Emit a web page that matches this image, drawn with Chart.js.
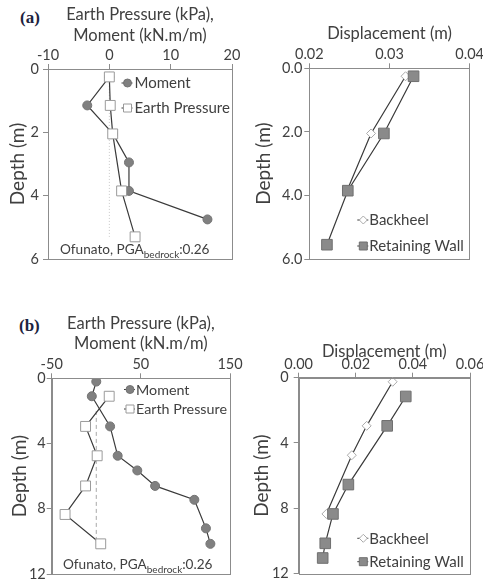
<!DOCTYPE html>
<html><head><meta charset="utf-8">
<script src="https://cdn.jsdelivr.net/npm/chart.js@4.4.0/dist/chart.umd.min.js"></script>
<style>
html,body{margin:0;padding:0;background:#fff;width:483px;height:582px;overflow:hidden;}
canvas{position:absolute;}
.lbl{position:absolute;font-family:"Liberation Serif",serif;font-weight:bold;font-size:17px;color:#1c2340;line-height:1;}
.note{position:absolute;font-family:Lato,sans-serif;font-size:13.6px;color:#404040;white-space:nowrap;line-height:1;}
.note sub{font-size:10px;vertical-align:-4px;line-height:0;}
</style></head><body>
<div class="lbl" style="left:20px;top:9px">(a)</div>
<div class="lbl" style="left:19px;top:317px">(b)</div>
<canvas id="cA2" width="242" height="291" style="left:241px;top:0"></canvas>
<canvas id="cB2" width="242" height="291" style="left:241px;top:291px"></canvas>
<canvas id="cA1" width="252" height="291" style="left:0;top:0"></canvas>
<canvas id="cB1" width="252" height="291" style="left:0;top:291px"></canvas>
<div class="note" style="left:60px;top:243px">Ofunato, PGA<sub>bedrock</sub>:0.26</div>
<div class="note" style="left:63px;top:558px">Ofunato, PGA<sub>bedrock</sub>:0.26</div>
<script>
// ---------- Panel (a) left: Moment / Earth pressure ----------
const depthMomentA = [0.25, 1.15, 2.05, 2.95, 3.85, 4.75];
const momentA      = [0.0, -3.6, 0.6, 3.2, 3.2, 16.0];
const depthEpA     = [0.25, 1.15, 2.05, 3.85, 5.3];
const earthPressureA = [0.0, 0.15, 0.55, 2.0, 4.2];
const refDepthA = [0.25, 5.3];
const refXA = [0, 0];
const xTicksA1 = [-10, 0, 10, 20];
const yTicksA = [0, 2, 4, 6];

// ---------- Panel (a) right: Displacement ----------
const depthBackA = [0.25, 2.05, 3.85];
const backheelA  = [0.0320, 0.0277, 0.0247];
const depthWallA = [0.25, 2.05, 3.85, 5.55];
const wallA      = [0.0330, 0.0293, 0.0248, 0.0222];
const xTicksA2 = [0.02, 0.03, 0.04];

// ---------- Panel (b) left: Moment / Earth pressure ----------
const depthMomentB = [0.2, 1.1, 2.95, 4.75, 5.65, 6.6, 7.45, 9.2, 10.15];
const momentB      = [0, -5, 15.5, 24, 46, 66, 110, 123, 128];
const depthEpB     = [1.1, 2.95, 4.75, 6.6, 8.35, 10.15];
const earthPressureB = [14.5, -12, 1, -12, -35, 5];
const refDepthB = [2.0, 10.15];
const refXB = [0, 0];
const xTicksB1 = [-50, 50, 150];
const yTicksB = [0, 4, 8, 12];

// ---------- Panel (b) right: Displacement ----------
const depthBackB = [0.25, 2.95, 4.75, 8.35];
const backheelB  = [0.0329, 0.0238, 0.0186, 0.0097];
const depthWallB = [1.15, 2.95, 6.55, 8.35, 10.15, 11.05];
const wallB      = [0.0375, 0.0310, 0.0174, 0.0120, 0.0093, 0.0084];
const xTicksB2 = [0.00, 0.02, 0.04, 0.06];

const pts = (xs, ys) => xs.map((x, i) => ({x: x, y: ys[i]}));
const TXT = '#404040';
const AX = '#8c8c8c';
const LINE = '#3a3a3a';

function drawMarker(ctx, style, x, y, r) {
  if (style === 'circle') { ctx.arc(x, y, r, 0, Math.PI * 2); }
  else if (style === 'rect') { ctx.rect(x - r, y - r, 2 * r, 2 * r); }
  else if (style === 'rectRot') { ctx.moveTo(x, y - r); ctx.lineTo(x + r, y); ctx.lineTo(x, y + r); ctx.lineTo(x - r, y); ctx.closePath(); }
}
const boxPlugin = {
  id: 'boxAndLegend',
  afterDatasetsDraw(chart, args, opts) {
    const ctx = chart.ctx, a = chart.chartArea;
    ctx.save();
    ctx.strokeStyle = AX; ctx.lineWidth = 1;
    ctx.strokeRect(Math.round(a.left) + 0.5, Math.round(a.top) + 0.5,
                   Math.round(a.right - a.left), Math.round(a.bottom - a.top));
    if (opts && opts.items) {
      opts.items.forEach((it, k) => {
        const ds = chart.data.datasets[it.ds];
        const x = opts.x, y = opts.y + k * opts.gap;
        ctx.strokeStyle = ds.borderColor; ctx.lineWidth = 1;
        ctx.beginPath(); ctx.moveTo(x - 6, y); ctx.lineTo(x + 5, y); ctx.stroke();
        ctx.fillStyle = ds.pointBackgroundColor; ctx.strokeStyle = ds.pointBorderColor;
        ctx.beginPath();
        drawMarker(ctx, ds.pointStyle, x, y, it.r);
        ctx.fill(); ctx.stroke();
        ctx.fillStyle = TXT;
        ctx.font = opts.font + 'px Lato, sans-serif';
        ctx.textBaseline = 'middle'; ctx.textAlign = 'left';
        ctx.fillText(ds.label, x + opts.dx, y + 0.5);
      });
    }
    ctx.restore();
  }
};

function makeChart(id, c) {
  const cv = document.getElementById(id);
  const W = cv.width, H = cv.height;
  return new Chart(cv.getContext('2d'), {
    type: 'scatter',
    data: {datasets: c.datasets},
    options: {
      responsive: false, animation: false, devicePixelRatio: 1,
      layout: {padding: {left: 0, top: 0, right: W - c.area.r, bottom: H - c.area.b}},
      plugins: {legend: {display: false}, tooltip: {enabled: false}, boxAndLegend: c.legend},
      scales: {
        x: {
          type: 'linear', position: 'top', min: c.xMin, max: c.xMax,
          afterBuildTicks: s => { s.ticks = c.xTicks.map(v => ({value: v})); },
          afterFit: s => { s.height = c.area.t; s.paddingLeft = 0; s.paddingRight = 0; },
          ticks: {callback: c.xFmt, color: TXT, font: {family: 'Lato', size: 14.5}, padding: 0, maxRotation: 0, autoSkip: false},
          grid: {drawOnChartArea: false, drawTicks: true, tickLength: 5, color: AX},
          border: {display: true, color: AX},
          title: {display: true, text: c.xTitle, color: TXT, font: {family: 'Lato', size: 16.5, lineHeight: 1.22}, padding: {top: c.xTitlePad, bottom: 0}}
        },
        y: {
          type: 'linear', position: 'left', reverse: true, min: c.yMin, max: c.yMax,
          afterBuildTicks: s => { s.ticks = c.yTicks.map(v => ({value: v})); },
          afterFit: s => { s.width = c.area.l; s.paddingTop = 0; s.paddingBottom = 0; },
          ticks: {callback: c.yFmt, color: TXT, font: {family: 'Lato', size: 14.5}, padding: c.yTickPad, autoSkip: false},
          grid: {drawOnChartArea: false, drawTicks: true, tickLength: 5, color: AX},
          border: {display: true, color: AX},
          title: {display: true, text: 'Depth (m)', color: TXT, font: {family: 'Lato', size: 19, lineHeight: 1.2}, padding: {top: c.yTitlePad, bottom: 0}}
        }
      }
    },
    plugins: [boxPlugin]
  });
}

function momentDs(label, data) {
  return {label, data, showLine: true, borderColor: LINE, borderWidth: 1.2,
    pointStyle: 'circle', pointRadius: 4.5, pointBackgroundColor: '#808080', pointBorderColor: '#737373', pointBorderWidth: 1, order: 1};
}
function epDs(label, data) {
  return {label, data, showLine: true, borderColor: LINE, borderWidth: 1.2,
    pointStyle: 'rect', pointRadius: 7, pointBackgroundColor: '#ffffff', pointBorderColor: '#9a9a9a', pointBorderWidth: 1, order: 0};
}
function backDs(label, data) {
  return {label, data, showLine: true, borderColor: LINE, borderWidth: 1.2,
    pointStyle: 'rectRot', pointRadius: 4.5, pointBackgroundColor: '#ffffff', pointBorderColor: '#aaaaaa', pointBorderWidth: 1, order: 1};
}
function wallDs(label, data) {
  return {label, data, showLine: true, borderColor: LINE, borderWidth: 1.2,
    pointStyle: 'rect', pointRadius: 7.5, pointBackgroundColor: '#8a8a8a', pointBorderColor: '#707070', pointBorderWidth: 1, order: 0};
}
function refDs(data, dash, color) {
  return {label: 'ref', data, showLine: true, borderColor: color, borderWidth: 1, borderDash: dash,
    pointRadius: 0, order: 5};
}

const f0 = v => String(v);
makeChart('cA1', {
  area: {l: 48, t: 69, r: 232, b: 259},
  xMin: -10, xMax: 20, xTicks: xTicksA1, xFmt: f0,
  yMin: 0, yMax: 6, yTicks: yTicksA, yFmt: f0, yTickPad: 4, yTitlePad: 6.5,
  xTitle: ['Earth Pressure (kPa),', 'Moment (kN.m/m)'], xTitlePad: 5,
  datasets: [refDs(pts(refXA, refDepthA), [1, 2], '#c8c8c8'),
             momentDs('Moment', pts(momentA, depthMomentA)),
             epDs('Earth Pressure', pts(earthPressureA, depthEpA))],
  legend: {x: 127.5, y: 83, gap: 25, dx: 7, font: 15, items: [{ds: 1, r: 4}, {ds: 2, r: 4}]}
});
makeChart('cA2', {
  area: {l: 68.3, t: 68.3, r: 228.7, b: 259},
  xMin: 0.02, xMax: 0.04, xTicks: xTicksA2, xFmt: v => v.toFixed(2),
  yMin: 0, yMax: 6, yTicks: yTicksA, yFmt: v => v.toFixed(1), yTickPad: 2, yTitlePad: 11,
  xTitle: 'Displacement (m)', xTitlePad: 23.3,
  datasets: [backDs('Backheel', pts(backheelA, depthBackA)),
             wallDs('Retaining Wall', pts(wallA, depthWallA))],
  legend: {x: 122.3, y: 220, gap: 26, dx: 6, font: 15, items: [{ds: 0, r: 4}, {ds: 1, r: 4}]}
});
makeChart('cB1', {
  area: {l: 51.7, t: 87.3, r: 230, b: 285},
  xMin: -50, xMax: 150, xTicks: xTicksB1, xFmt: f0,
  yMin: 0, yMax: 12, yTicks: yTicksB, yFmt: f0, yTickPad: 1, yTitlePad: 8.3,
  xTitle: ['Earth Pressure (kPa),', 'Moment (kN.m/m)'], xTitlePad: 22.3,
  datasets: [refDs(pts(refXB, refDepthB), [4, 3], '#a8a8a8'),
             momentDs('Moment', pts(momentB, depthMomentB)),
             epDs('Earth Pressure', pts(earthPressureB, depthEpB))],
  legend: {x: 130, y: 98.5, gap: 19.5, dx: 6, font: 14.3, items: [{ds: 1, r: 4}, {ds: 2, r: 4}]}
});
makeChart('cB2', {
  area: {l: 57.7, t: 86.7, r: 229, b: 282.7},
  xMin: 0, xMax: 0.06, xTicks: xTicksB2, xFmt: v => v.toFixed(2),
  yMin: 0, yMax: 12, yTicks: yTicksB, yFmt: f0, yTickPad: 5, yTitlePad: 9.6,
  xTitle: 'Displacement (m)', xTitlePad: 50.7,
  datasets: [backDs('Backheel', pts(backheelB, depthBackB)),
             wallDs('Retaining Wall', pts(wallB, depthWallB))],
  legend: {x: 122.3, y: 247.3, gap: 23.4, dx: 6, font: 15, items: [{ds: 0, r: 4}, {ds: 1, r: 4}]}
});
</script>
</body></html>
